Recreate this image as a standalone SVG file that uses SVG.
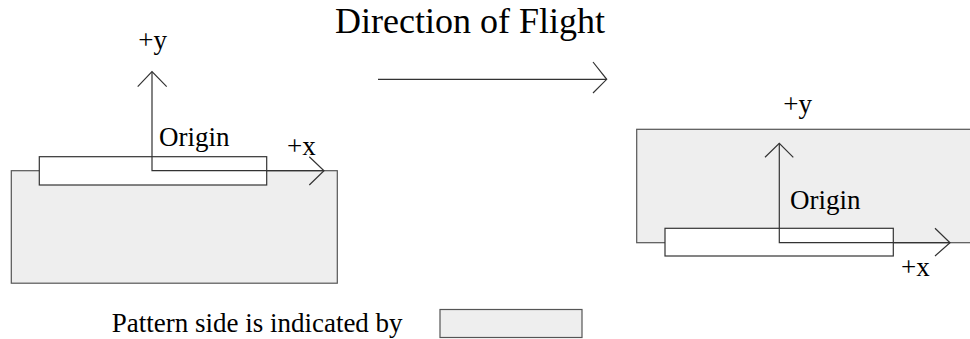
<svg xmlns="http://www.w3.org/2000/svg" width="970" height="339" viewBox="0 0 970 339">
<style>
.t{font-family:"Liberation Serif","Times New Roman",serif;fill:#000}
.s{font-size:27px}
.pat{fill:#eeeeee;stroke:#555;stroke-width:1.2}
.box{fill:#fff;stroke:#333;stroke-width:1.2}
.ax{fill:none;stroke:#333;stroke-width:1.2}
</style>
<rect width="970" height="339" fill="#fff"/>
<text class="t" x="335" y="33" font-size="36">Direction of Flight</text>
<g id="flight-arrow" class="ax">
<line x1="378" y1="79.3" x2="606.7" y2="79.3"/>
<polyline points="593,62 606.7,79.3 593,93"/>
</g>
<g id="left-panel">
<rect class="pat" x="11.3" y="170.7" width="326" height="112.5"/>
<rect class="box" x="39.3" y="156.7" width="227.4" height="28.3"/>
</g>
<g id="right-panel">
<rect class="pat" x="636.7" y="129.3" width="340" height="113.4"/>
<rect class="box" x="665" y="228.3" width="228.3" height="27.7"/>
</g>
<g id="connectors" class="ax">
<polyline points="152,71.7 152,170.7 324,170.7"/>
<polyline points="137.7,86.7 152,71.7 166.7,86.7"/>
<polyline points="309.3,156.7 324,170.7 309.3,185"/>
<polyline points="779.3,143.3 779.3,242.7 950,242.7"/>
<polyline points="765,157.3 779.3,143.3 793.3,157.3"/>
<polyline points="935,228.3 950,242.7 935,256"/>
</g>
<g id="labels">
<text class="t s" x="138.3" y="49">+y</text>
<text class="t s" x="159" y="146">Origin</text>
<text class="t s" x="287" y="155">+x</text>
<text class="t s" x="783.3" y="113">+y</text>
<text class="t s" x="790" y="209">Origin</text>
<text class="t s" x="901" y="276">+x</text>
</g>
<g id="legend">
<text class="t s" x="111.7" y="332">Pattern side is indicated by</text>
<rect class="pat" x="440" y="309.5" width="142" height="28"/>
</g>
</svg>
